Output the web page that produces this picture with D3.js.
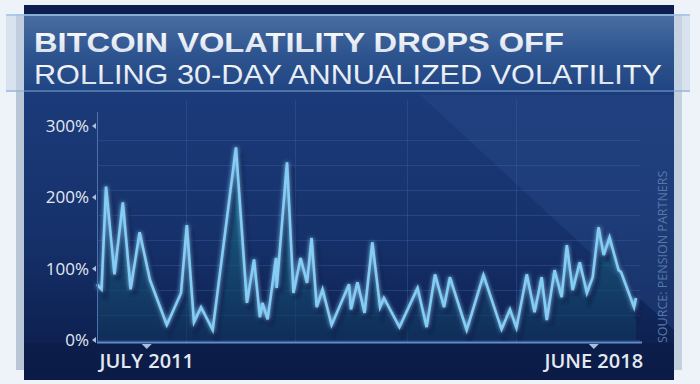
<!DOCTYPE html>
<html>
<head>
<meta charset="utf-8">
<script src="https://cdn.jsdelivr.net/npm/d3@7"></script>
<style>
  html, body { margin: 0; padding: 0; background: #eef3f9; }
  svg { display: block; }
</style>
</head>
<body>
<div id="chart"></div>
<script>
// title text
var title = 'BITCOIN VOLATILITY DROPS OFF';
var subtitle = 'ROLLING 30-DAY ANNUALIZED VOLATILITY';
var source = 'SOURCE: PENSION PARTNERS';

// decimal year of each turn of the line, and the volatility (%) there
var dates = [2010.73, 2010.80, 2010.87, 2011.00, 2011.13, 2011.25, 2011.39, 2011.55, 2011.81, 2012.03,
             2012.12, 2012.23, 2012.34, 2012.52, 2012.88, 2013.05, 2013.16, 2013.25, 2013.29, 2013.37,
             2013.50, 2013.51, 2013.67, 2013.77, 2013.88, 2013.98, 2014.05, 2014.13, 2014.22, 2014.36,
             2014.63, 2014.66, 2014.76, 2014.87, 2014.99, 2015.11, 2015.17, 2015.41, 2015.69, 2015.83,
             2015.96, 2016.10, 2016.19, 2016.45, 2016.71, 2016.99, 2017.12, 2017.22, 2017.38, 2017.50,
             2017.61, 2017.69, 2017.81, 2017.92, 2018.00, 2018.09, 2018.20, 2018.31, 2018.40, 2018.49,
             2018.57, 2018.66, 2018.80, 2018.84, 2019.04, 2019.07];
var vol = [78, 71, 215, 92, 193, 71, 151, 84, 21, 66,
           161, 25, 46, 14, 270, 52, 113, 32, 52, 29,
           115, 73, 249, 66, 115, 80, 143, 46, 71, 21,
           78, 43, 81, 38, 137, 46, 59, 18, 73, 18,
           92, 46, 88, 14, 91, 15, 43, 17, 92, 39,
           88, 28, 98, 60, 133, 70, 109, 66, 88, 158,
           119, 144, 98, 95, 46, 59];

var yTicks = [0, 100, 200, 300];
var xTickDates = [2011.5, 2018.417];
var xTickLabels = ['JULY 2011', 'JUNE 2018'];

var w = 700, h = 384;

var svg = d3.select('#chart').append('svg')
    .attr('width', w)
    .attr('height', h);

var defs = svg.append('defs');

// panel gradient
var pg = defs.append('linearGradient').attr('id', 'panelGrad')
    .attr('x1', 0).attr('y1', 0).attr('x2', 0).attr('y2', 1);
pg.append('stop').attr('offset', '0%').attr('stop-color', '#1f4082');
pg.append('stop').attr('offset', '60%').attr('stop-color', '#16326c');
pg.append('stop').attr('offset', '100%').attr('stop-color', '#0b1b48');

// banner gradient
var bg = defs.append('linearGradient').attr('id', 'bannerGrad')
    .attr('x1', 0).attr('y1', 0).attr('x2', 0).attr('y2', 1);
bg.append('stop').attr('offset', '0%').attr('stop-color', '#4a6ea3');
bg.append('stop').attr('offset', '50%').attr('stop-color', '#2f5590');
bg.append('stop').attr('offset', '100%').attr('stop-color', '#1f4482');

// title text gradient
var tg = defs.append('linearGradient').attr('id', 'textGrad')
    .attr('x1', 0).attr('y1', 0).attr('x2', 0).attr('y2', 1);
tg.append('stop').attr('offset', '0%').attr('stop-color', '#ffffff');
tg.append('stop').attr('offset', '100%').attr('stop-color', '#d3dcea');

// area gradient
var ag = defs.append('linearGradient').attr('id', 'areaGrad')
    .attr('x1', 0).attr('y1', 0).attr('x2', 0).attr('y2', 1);
ag.append('stop').attr('offset', '0%').attr('stop-color', '#1f7c95').attr('stop-opacity', 0.75);
ag.append('stop').attr('offset', '100%').attr('stop-color', '#10365e').attr('stop-opacity', 0.6);

var glow = defs.append('filter').attr('id', 'glow')
    .attr('x', '-10%').attr('y', '-10%').attr('width', '120%').attr('height', '120%');
glow.append('feGaussianBlur').attr('stdDeviation', 2).attr('result', 'b');
var fm = glow.append('feMerge');
fm.append('feMergeNode').attr('in', 'b');
fm.append('feMergeNode').attr('in', 'SourceGraphic');

var blur = defs.append('filter').attr('id', 'blur');
blur.append('feGaussianBlur').attr('stdDeviation', 1.5);

// shadow blocks behind the panel
svg.append('rect').attr('x', 16).attr('y', 14).attr('width', 10).attr('height', 356).attr('fill', '#b9c6d6');
svg.append('rect').attr('x', 670).attr('y', 14).attr('width', 12).attr('height', 356).attr('fill', '#c3d0de');

// main panel
svg.append('rect')
    .attr('x', 24).attr('y', 5)
    .attr('width', 650).attr('height', 375)
    .attr('fill', 'url(#panelGrad)');

// lighter diagonal in upper right of the chart area
svg.append('polygon')
    .attr('points', '420,95 674,95 674,330')
    .attr('fill', '#2a4c8c').attr('opacity', 0.35);

// banner (title bar)
svg.append('rect').attr('x', 24).attr('y', 5).attr('width', 650).attr('height', 10).attr('fill', '#0c1e4f');
svg.append('rect').attr('x', 6).attr('y', 14).attr('width', 684).attr('height', 78)
    .attr('fill', '#c7d6e8').attr('opacity', 0.55);
svg.append('rect').attr('x', 24).attr('y', 14).attr('width', 650).attr('height', 78)
    .attr('fill', 'url(#bannerGrad)');
svg.append('line').attr('x1', 6).attr('x2', 690).attr('y1', 15).attr('y2', 15)
    .attr('stroke', '#9fc3e6').attr('stroke-width', 1.5);
svg.append('line').attr('x1', 6).attr('x2', 690).attr('y1', 91).attr('y2', 91)
    .attr('stroke', '#7fa3cf').attr('stroke-width', 1);

// title lines (tight-metric font so the two lines don't collide)
svg.append('text')
    .attr('x', 34).attr('y', 51.5)
    .attr('font-family', 'Liberation Sans, Arial, sans-serif')
    .attr('font-weight', 700)
    .attr('font-size', 28)
    .attr('textLength', 530)
    .attr('lengthAdjust', 'spacingAndGlyphs')
    .attr('fill', 'url(#textGrad)')
    .text(title);

svg.append('text')
    .attr('x', 34).attr('y', 83.5)
    .attr('font-family', 'Liberation Sans, Arial, sans-serif')
    .attr('font-weight', 400)
    .attr('font-size', 28)
    .attr('textLength', 628)
    .attr('lengthAdjust', 'spacingAndGlyphs')
    .attr('fill', 'url(#textGrad)')
    .text(subtitle);

// scales
var x = d3.scaleLinear()
    .domain([d3.min(dates), d3.max(dates)])
    .range([97, 636]);

var y = d3.scaleLinear()
    .domain([0, 300])
    .range([340, 126]);

// faint grid
var g = svg.append('g');
g.selectAll('.hgrid')
    .data(d3.range(0, 300, 35))
    .enter()
    .append('line')
    .attr('x1', 97).attr('x2', 640)
    .attr('y1', function(d){ return Math.round(y(d)) + 0.5; })
    .attr('y2', function(d){ return Math.round(y(d)) + 0.5; })
    .attr('stroke', '#3a5a98').attr('stroke-opacity', 0.45);

g.selectAll('.vgrid')
    .data([2012.10, 2013.80, 2015.52, 2017.22])
    .enter()
    .append('line')
    .attr('x1', function(d){ return Math.round(x(d)) + 0.5; })
    .attr('x2', function(d){ return Math.round(x(d)) + 0.5; })
    .attr('y1', 100).attr('y2', 342)
    .attr('stroke', '#3a5a98').attr('stroke-opacity', 0.45);

var pts = dates.map(function(d, i){ return [d, vol[i]]; });

var area = d3.area()
    .x(function(d){ return x(d[0]); })
    .y0(y(0))
    .y1(function(d){ return y(d[1]); });

var line = d3.line()
    .x(function(d){ return x(d[0]); })
    .y(function(d){ return y(d[1]); });

// area fill
svg.append('path')
    .datum(pts)
    .attr('d', area)
    .attr('fill', 'url(#areaGrad)');

// dark shadow under line
svg.append('path')
    .datum(pts)
    .attr('d', line)
    .attr('transform', 'translate(3,5)')
    .attr('fill', 'none')
    .attr('stroke', '#0b1f4d')
    .attr('stroke-width', 6)
    .attr('stroke-opacity', 0.65)
    .attr('filter', 'url(#blur)');

// the line
svg.append('path')
    .datum(pts)
    .attr('d', line)
    .attr('fill', 'none')
    .attr('stroke', '#86cdf6')
    .attr('stroke-width', 2.6)
    .attr('stroke-linejoin', 'miter')
    .attr('filter', 'url(#glow)');

// bottom band under the axis
svg.append('rect').attr('x', 24).attr('y', 343).attr('width', 650).attr('height', 37)
    .attr('fill', '#0c1b45').attr('opacity', 0.55);

// axes lines
svg.append('line').attr('x1', 97.5).attr('x2', 97.5).attr('y1', 112).attr('y2', 343)
    .attr('stroke', '#4f72ad').attr('stroke-width', 1);
svg.append('line').attr('x1', 97).attr('x2', 642).attr('y1', 342.5).attr('y2', 342.5)
    .attr('stroke', '#5f8fcf').attr('stroke-width', 2);

// y axis labels + small triangles
var yAxis = svg.append('g');
yAxis.selectAll('text')
    .data(yTicks)
    .enter()
    .append('text')
    .attr('x', 89)
    .attr('y', function(d){ return y(d) + 6; })
    .attr('text-anchor', 'end')
    .attr('font-family', 'Open Sans, sans-serif')
    .attr('font-size', 17)
    .attr('fill', '#e3e9f2')
    .text(function(d){ return d + '%'; });

yAxis.selectAll('path')
    .data(yTicks)
    .enter()
    .append('path')
    .attr('d', function(d){ var yy = y(d); return 'M92,' + yy + 'L96,' + (yy - 3) + 'L96,' + (yy + 3) + 'Z'; })
    .attr('fill', '#a9bfdc');

// x axis labels + small triangles
var xAxis = svg.append('g');
xAxis.selectAll('text')
    .data(xTickDates)
    .enter()
    .append('text')
    .attr('x', function(d){ return x(d); })
    .attr('y', 368)
    .attr('text-anchor', 'middle')
    .attr('font-family', 'Open Sans, sans-serif')
    .attr('font-weight', 600)
    .attr('font-size', 20)
    .attr('fill', '#e3e9f2')
    .text(function(d, i){ return xTickLabels[i]; });

xAxis.selectAll('path')
    .data(xTickDates)
    .enter()
    .append('path')
    .attr('d', function(d){ var xx = x(d); return 'M' + (xx - 5) + ',344L' + (xx + 5) + ',344L' + xx + ',349Z'; })
    .attr('fill', '#a9bfdc');

// source, rotated
svg.append('text')
    .attr('transform', 'translate(667,343) rotate(-90)')
    .attr('font-family', 'Open Sans, sans-serif')
    .attr('font-size', 12.5)
    .attr('fill', '#5877a8')
    .text(source);
</script>
</body>
</html>
